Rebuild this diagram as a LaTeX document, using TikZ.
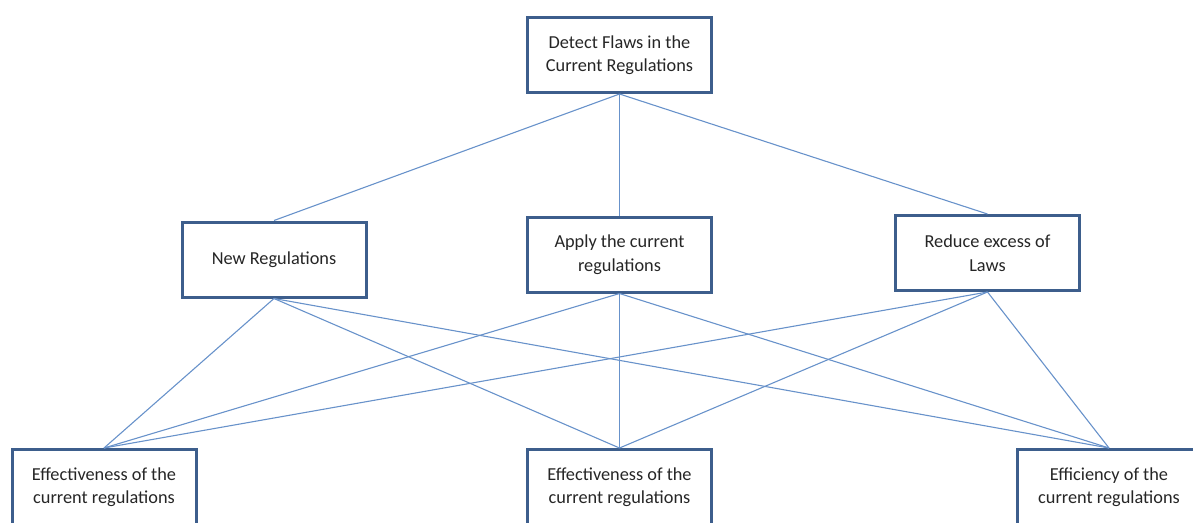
\documentclass[tikz,border=0pt]{standalone}
\usepackage{fontspec}
\setmainfont{Carlito}
\usepackage{tikz}
\usetikzlibrary{calc}
\definecolor{boxblue}{RGB}{61,94,140}
\definecolor{linkblue}{RGB}{104,146,202}
\tikzset{goalbox/.style={draw=boxblue, line width=3pt, fill=white, minimum width=184pt, minimum height=75pt, inner sep=0, align=center, font=\fontsize{18.3}{23.5}\selectfont, text=black!85}}
\tikzset{link/.style={linkblue, line width=1.1pt}}

\begin{document}
\begin{tikzpicture} [x=1pt, y=-1pt]
\useasboundingbox (0,0) rectangle (1193,522);
\clip (0,0) rectangle (1193,522);
% levels
\node[goalbox] (top) at (619.5,55) {Detect Flaws in the\\Current Regulations};
\node[goalbox] (new) at (274,259.5) {New Regulations};
\node[goalbox] (apply) at (619.5,254.5) {Apply the current\\regulations};
\node[goalbox] (reduce) at (987.5,253) {Reduce excess of\\Laws};
\node[goalbox] (effa) at (104,487) {Effectiveness of the\\current regulations};
\node[goalbox] (effb) at (619.5,487) {Effectiveness of the\\current regulations};
\node[goalbox] (effc) at (1109,487) {Efficiency of the\\current regulations};
% links
\foreach \m in {new,apply,reduce} {
  \draw[link] (top.south)--(\m.north);
}
\foreach \m in {new,apply,reduce} {
  \foreach \b in {effa,effb,effc} {
    \draw[link] (\m.south)--(\b.north);
  }
}
\end{tikzpicture}
\end{document}
